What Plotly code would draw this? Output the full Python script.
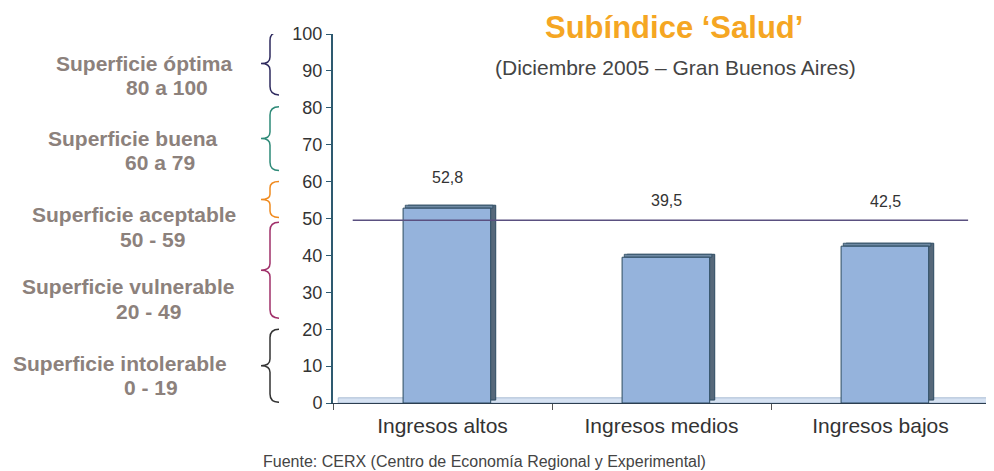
import plotly.graph_objects as go

# data
categories = ["Ingresos altos", "Ingresos medios", "Ingresos bajos"]
values = [52.8, 39.5, 42.5]
value_labels = ["52,8", "39,5", "42,5"]
threshold = 49.5
y_ticks = list(range(0, 101, 10))

band_names = ["Superficie óptima", "Superficie buena", "Superficie aceptable",
              "Superficie vulnerable", "Superficie intolerable"]
band_ranges = ["80 a 100", "60 a 79", "50 - 59", "20 - 49", "0 - 19"]
band_lo = [83.5, 63, 50.3, 23, 0.2]
band_hi = [100.5, 80.3, 60, 49, 20]
band_colors = ["#2e2a5e", "#2e8a78", "#f08a1e", "#a0306a", "#333333"]

BAR = "#95b3dc"
EDGE = "#2c4a60"
SIDE = "#56687a"
TOP = "#6f8aa4"
GREY = "#8c817c"
FONT = "Liberation Sans, Arial"
DEPTH = 0.8

fig = go.Figure()

# back face (right side of the 3d box)
fig.add_trace(go.Bar(
    x=categories, y=values, base=DEPTH,
    width=0.4, offset=-0.157,
    marker=dict(color=SIDE, line=dict(color=EDGE, width=1)),
    hoverinfo="skip", showlegend=False
))
# top face
fig.add_trace(go.Bar(
    x=categories, y=[DEPTH] * len(values), base=values,
    width=0.4, offset=-0.17,
    marker=dict(color=TOP, line=dict(color=EDGE, width=0.8)),
    hoverinfo="skip", showlegend=False
))
# front face
fig.add_trace(go.Bar(
    x=categories, y=values,
    width=0.4, offset=-0.18,
    marker=dict(color=BAR, line=dict(color=EDGE, width=1)),
    showlegend=False
))

# floor
fig.add_shape(type="rect", xref="paper", yref="y", x0=0.008, x1=1.0, y0=0, y1=1.4,
              fillcolor="#d6e2f2", line=dict(color="#a9bdd4", width=1), layer="below")

# threshold line
fig.add_shape(type="line", xref="x", yref="y", x0=-0.41, x1=2.4,
              y0=threshold, y1=threshold, line=dict(color="#5a5080", width=1.5))

# value labels
label_y = [61, 55, 54.5]
for c, t, ly in zip(categories, value_labels, label_y):
    fig.add_annotation(x=c, y=ly, text=t, showarrow=False, xshift=5,
                       font=dict(family=FONT, size=16, color="#333333"))

# page px -> paper x (plot area starts at page x=333, 657 px wide)
def px(p):
    return (p - 333) / 657


name_x = [144, 133, 134, 128, 120]
range_x = [167, 160, 152, 148, 151]
name_y = [91.9, 71.8, 51.2, 31.7, 10.6]
range_y = [85.4, 65.3, 44.4, 24.9, 4.1]

for i in range(len(band_names)):
    lo, hi = band_lo[i], band_hi[i]
    mid = (lo + hi) / 2
    r = 0.9 if hi - lo > 12 else 0.7
    xe, xc, xt = px(279), px(270), px(261)
    path = (f"M {xe},{hi} Q {xc},{hi} {xc},{hi - 2.5*r} "
            f"L {xc},{mid + 2*r} Q {xc},{mid} {xt},{mid} "
            f"Q {xc},{mid} {xc},{mid - 2*r} "
            f"L {xc},{lo + 2.5*r} Q {xc},{lo} {xe},{lo}")
    fig.add_shape(type="path", xref="paper", yref="y", path=path,
                  line=dict(color=band_colors[i], width=1.5))
    fig.add_annotation(xref="paper", yref="y", x=px(name_x[i]), y=name_y[i],
                       xanchor="center", yanchor="middle",
                       text=f"<b>{band_names[i]}</b>", showarrow=False,
                       font=dict(family=FONT, size=21, color=GREY))
    fig.add_annotation(xref="paper", yref="y", x=px(range_x[i]), y=range_y[i],
                       xanchor="center", yanchor="middle",
                       text=f"<b>{band_ranges[i]}</b>", showarrow=False,
                       font=dict(family=FONT, size=21, color=GREY))

# titles
fig.add_annotation(xref="paper", yref="paper", x=px(674), y=1 + (34 - 28) / 369,
                   xanchor="center", yanchor="middle",
                   text="<b>Subíndice ‘Salud’</b>", showarrow=False,
                   font=dict(family=FONT, size=31, color="#f5a623"))
fig.add_annotation(xref="paper", yref="paper", x=px(675), y=1 - (67 - 34) / 369,
                   xanchor="center", yanchor="middle",
                   text="(Diciembre 2005 – Gran Buenos Aires)", showarrow=False,
                   font=dict(family=FONT, size=21, color="#444444"))
fig.add_annotation(xref="paper", yref="paper", x=px(484), y=-(461 - 403) / 369,
                   xanchor="center", yanchor="middle",
                   text="Fuente: CERX (Centro de Economía Regional y Experimental)",
                   showarrow=False,
                   font=dict(family=FONT, size=16, color="#444444"))

# the page body adds an 8px margin, so the figure is sized/offset to compensate
fig.update_layout(
    width=986, height=463,
    margin=dict(l=325, r=4, t=26, b=68),
    paper_bgcolor="white", plot_bgcolor="white",
    barmode="overlay", bargap=0.6,
    font=dict(family=FONT, color="#333333"),
    xaxis=dict(
        type="category", range=[-0.5, 2.5],
        showline=True, linecolor="#2c3e50", linewidth=1,
        ticks="outside", tickson="boundaries", ticklen=6, tickcolor="#555555",
        ticklabelstandoff=4,
        tickfont=dict(size=21, color="#333333"), showgrid=False,
    ),
    yaxis=dict(
        range=[0, 100], tickvals=y_ticks,
        showline=True, linecolor="#2e5a70", linewidth=2,
        ticks="outside", ticklen=5, tickcolor="#2e5a70",
        tickfont=dict(size=18, color="#333333"), showgrid=False, zeroline=False,
    ),
)

fig.write_html("out.html")
